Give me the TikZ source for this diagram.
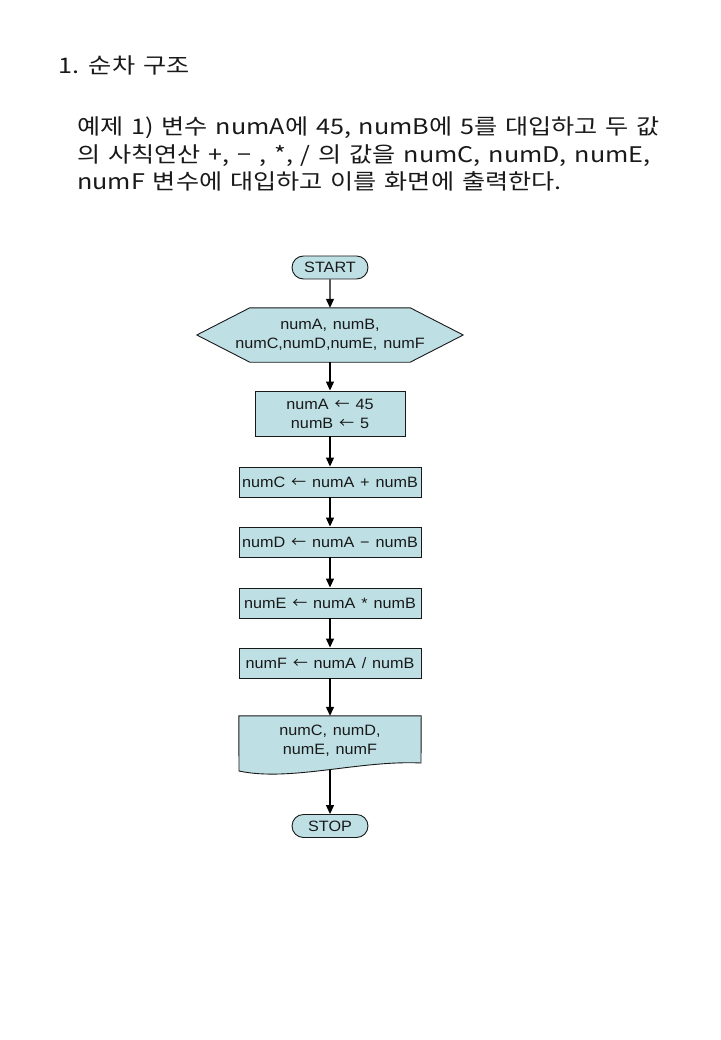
\documentclass[tikz,border=0pt]{standalone}
\usepackage{fontspec}
\usetikzlibrary{arrows.meta,shapes.misc,backgrounds}
\newfontfamily\krfont[FakeStretch=1.17,WordSpace=1.4]{Noto Sans CJK KR}
\newfontfamily\boxfont[FakeStretch=1.08,WordSpace=1.3]{Liberation Sans}
\newfontfamily\arrowfont{Noto Sans CJK KR}
\newcommand{\larr}{{\arrowfont ←}}
\definecolor{boxfill}{RGB}{190,224,228}
\definecolor{ink}{RGB}{25,25,25}
\tikzset{
  krtext/.style={anchor=base west, inner sep=0pt, font=\krfont\fontsize{21.5}{25}\selectfont, text=ink},
  boxtext/.style={inner sep=0pt, align=center, text=ink, font=\boxfont\fontsize{15}{19}\selectfont},
  term/.style={boxtext, rounded rectangle, draw=ink, line width=0.9pt, fill=boxfill, minimum width=76pt, minimum height=23pt},
  procbox/.style={boxtext, rectangle, draw=ink, line width=0.9pt, fill=boxfill},
  shapeline/.style={draw=ink, line width=0.9pt, fill=boxfill},
  flow/.style={draw=black, line width=1.2pt, -{Triangle[length=9pt,width=8pt]}},
}
\begin{document}
\begin{tikzpicture}[x=1pt,y=-1pt]
\useasboundingbox (0,0) rectangle (720,1040);
\begin{scope}[on background layer]
  \fill[white] (0,0) rectangle (720,1040);
\end{scope}

% heading text
\node[krtext] (title) at (58,74) {1. 순차 구조};
\node[krtext] (l1) at (77,135) {예제 1) 변수 numA에 45, numB에 5를 대입하고 두 값};
\node[krtext] (l2) at (77,163) {의 사칙연산 +, − , *, / 의 값을 numC, numD, numE,};
\node[krtext] (l3) at (77,190) {numF 변수에 대입하고 이를 화면에 출력한다.};

% flowchart
\node[term] (start) at (330,267.5) {START};
\node[boxtext, minimum width=266pt, minimum height=54pt] (vars) at (330,335) {numA, numB,\\numC,numD,numE, numF};
\node[procbox, minimum width=150pt, minimum height=45pt] (init) at (330,413.5) {numA \larr{} 45\\numB \larr{} 5};
\node[procbox, minimum width=182pt, minimum height=30pt] (addc) at (330,482) {numC \larr{} numA + numB};
\node[procbox, minimum width=182pt, minimum height=30pt] (subd) at (330,542) {numD \larr{} numA − numB};
\node[procbox, minimum width=182pt, minimum height=30pt] (mule) at (330,603) {numE \larr{} numA * numB};
\node[procbox, minimum width=182pt, minimum height=30pt] (divf) at (330,663) {numF \larr{} numA / numB};
\node[boxtext, minimum width=182pt, minimum height=50pt] (out) at (330,741) {numC, numD,\\numE, numF};
\coordinate (outb) at (330,770);
\node[term] (stop) at (330,826) {STOP};

\begin{scope}[on background layer]
  \path[shapeline] (vars.west) -- ([xshift=53pt]vars.north west) -- ([xshift=-53pt]vars.north east)
    -- (vars.east) -- ([xshift=-53pt]vars.south east) -- ([xshift=53pt]vars.south west) -- cycle;
  \path[shapeline] (out.north west) -- (out.north east) -- (421,763)
    .. controls (360,760) and (290,782) .. (239,771) -- cycle;
\end{scope}

\draw[flow] (start) -- (vars);
\draw[flow] (vars) -- (init);
\draw[flow] (init) -- (addc);
\draw[flow] (addc) -- (subd);
\draw[flow] (subd) -- (mule);
\draw[flow] (mule) -- (divf);
\draw[flow] (divf) -- (out);
\draw[flow] (outb) -- (stop);
\end{tikzpicture}
\end{document}
